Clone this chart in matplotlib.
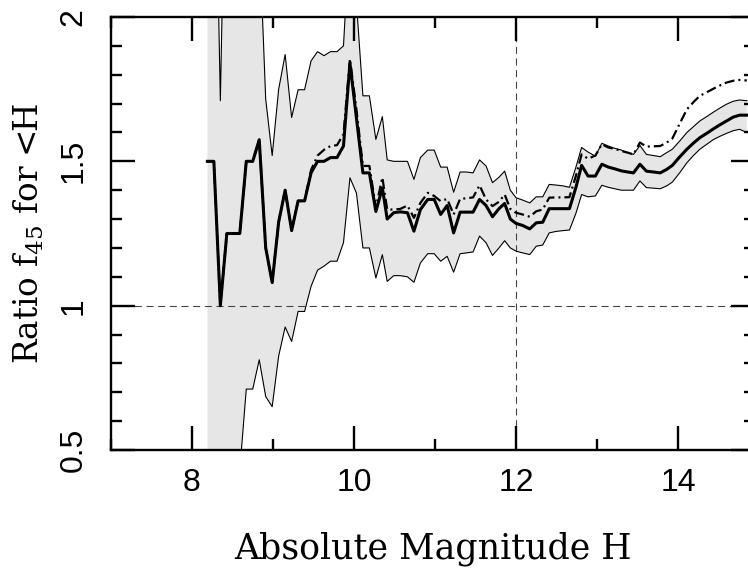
import matplotlib
matplotlib.use("Agg")
import matplotlib.pyplot as plt
from matplotlib.ticker import MultipleLocator, FixedLocator

plt.rcParams['mathtext.fontset'] = 'dejavuserif'

# ---- data ----
H = [8.19, 8.27, 8.35, 8.43, 8.51, 8.59, 8.67, 8.75, 8.83, 8.91,
     8.99, 9.07, 9.15, 9.23, 9.31, 9.39, 9.47, 9.55, 9.63, 9.71,
     9.79, 9.87, 9.95, 10.03, 10.11, 10.19, 10.27, 10.35,
     10.41, 10.49, 10.57, 10.66, 10.74, 10.82, 10.91, 10.99, 11.07, 11.15,
     11.23, 11.31, 11.39, 11.47, 11.55, 11.63, 11.71, 11.79, 11.86, 11.93,
     12.00, 12.08, 12.17, 12.25, 12.33, 12.41, 12.49, 12.58, 12.66, 12.74,
     12.81, 12.89, 12.98, 13.06, 13.14, 13.22, 13.30, 13.38, 13.45, 13.53,
     13.61, 13.70, 13.78, 13.86, 13.93, 14.02, 14.11, 14.19, 14.27, 14.36,
     14.44, 14.52, 14.60, 14.68, 14.76, 14.85]

ratio = [1.50, 1.50, 1.00, 1.25, 1.25, 1.25, 1.50, 1.50, 1.575, 1.20,
         1.08, 1.29, 1.40, 1.26, 1.363, 1.363, 1.46, 1.50, 1.50, 1.513,
         1.513, 1.553, 1.84, 1.65, 1.46, 1.46, 1.326, 1.408,
         1.30, 1.322, 1.325, 1.322, 1.258, 1.333, 1.368, 1.368, 1.316, 1.347,
         1.252, 1.324, 1.324, 1.324, 1.368, 1.347, 1.308, 1.336, 1.354, 1.30,
         1.285, 1.278, 1.266, 1.287, 1.289, 1.336, 1.336, 1.336, 1.336, 1.41,
         1.486, 1.449, 1.449, 1.49, 1.48, 1.474, 1.467, 1.463, 1.46, 1.49,
         1.466, 1.463, 1.46, 1.472, 1.486, 1.515, 1.542, 1.563, 1.582, 1.598,
         1.613, 1.627, 1.64, 1.653, 1.66, 1.66]

ratio_alt = [1.50, 1.50, 1.00, 1.25, 1.25, 1.25, 1.50, 1.50, 1.575, 1.20,
             1.08, 1.29, 1.40, 1.26, 1.363, 1.363, 1.47, 1.52, 1.54, 1.553,
             1.556, 1.594, 1.855, 1.68, 1.484, 1.484, 1.34, 1.444,
             1.333, 1.333, 1.335, 1.347, 1.304, 1.356, 1.391, 1.38, 1.362, 1.37,
             1.316, 1.37, 1.372, 1.375, 1.417, 1.368, 1.345, 1.36, 1.385, 1.335,
             1.322, 1.316, 1.308, 1.327, 1.333, 1.374, 1.375, 1.375, 1.376, 1.45,
             1.524, 1.509, 1.52, 1.559, 1.548, 1.543, 1.536, 1.53, 1.524, 1.565,
             1.551, 1.552, 1.553, 1.565, 1.579, 1.63, 1.68, 1.705, 1.727, 1.74,
             1.752, 1.763, 1.773, 1.779, 1.782, 1.78]

upper = [2.9, 2.87, 1.71, 2.87, 2.9, 2.9, 2.9, 2.9, 2.29, 1.715,
         1.52, 1.75, 1.87, 1.652, 1.748, 1.748, 1.848, 1.88, 1.866, 1.88,
         1.88, 1.90, 2.3, 2.05, 1.727, 1.727, 1.576, 1.655,
         1.505, 1.50, 1.50, 1.50, 1.4375, 1.513, 1.539, 1.539, 1.48, 1.48,
         1.393, 1.463, 1.463, 1.46, 1.505, 1.484, 1.426, 1.445, 1.466, 1.40,
         1.374, 1.366, 1.356, 1.377, 1.377, 1.42, 1.418, 1.415, 1.41, 1.48,
         1.548, 1.532, 1.518, 1.5625, 1.553, 1.545, 1.539, 1.53, 1.524, 1.555,
         1.524, 1.52, 1.516, 1.53, 1.542, 1.57, 1.60, 1.62, 1.64, 1.656,
         1.671, 1.685, 1.698, 1.708, 1.7125, 1.71]

lower = [0.2, 0.2, 0.2, 0.2, 0.3, 0.43, 0.711, 0.711, 0.8125, 0.685,
         0.65, 0.826, 0.926, 0.876, 0.98, 0.98, 1.067, 1.123, 1.137, 1.154,
         1.154, 1.218, 1.443, 1.39, 1.20, 1.20, 1.096, 1.177,
         1.084, 1.104, 1.104, 1.10, 1.081, 1.148, 1.18, 1.18, 1.154, 1.171,
         1.116, 1.18, 1.183, 1.186, 1.241, 1.218, 1.174, 1.20, 1.225, 1.20,
         1.189, 1.183, 1.177, 1.206, 1.21, 1.252, 1.257, 1.26, 1.262, 1.32,
         1.385, 1.377, 1.38, 1.417, 1.41, 1.405, 1.40, 1.40, 1.40, 1.432,
         1.409, 1.407, 1.405, 1.415, 1.428, 1.46, 1.495, 1.52, 1.542, 1.56,
         1.576, 1.587, 1.597, 1.606, 1.611, 1.60]

x_ticks = [8, 10, 12, 14]
y_ticks = [0.5, 1, 1.5, 2]
y_tick_labels = ['0.5', '1', '1.5', '2']

# ---- figure ----
W, Hpx = 748, 570
fig = plt.figure(figsize=(W / 100, Hpx / 100), dpi=100)
left_px, right_px, top_px, bot_px = 111, 755, 17, 450
ax = fig.add_axes([left_px / W, 1 - bot_px / Hpx,
                   (right_px - left_px) / W, (bot_px - top_px) / Hpx])

ax.fill_between(H, lower, upper, color='#e6e6e6', lw=0, zorder=1)
ax.plot(H, upper, color='k', lw=0.8, zorder=2)
ax.plot(H, lower, color='k', lw=0.8, zorder=2)
ax.plot(H, ratio_alt, color='k', lw=1.6, linestyle=(0, (4.5, 1.8, 0.9, 1.8)), zorder=3)
ax.plot(H, ratio, color='k', lw=2.2, zorder=4)

ax.axhline(1.0, color='#444444', lw=0.8, linestyle=(0, (6.3, 4.2)), zorder=1.5)
ax.axvline(12.0, color='#444444', lw=0.8, linestyle=(0, (6.3, 4.2)), zorder=1.5)

ax.set_xlim(7, 7 + (right_px - left_px) / 81.0)
ax.set_ylim(0.5, 2.0)

ax.xaxis.set_major_locator(FixedLocator(x_ticks))
ax.xaxis.set_minor_locator(MultipleLocator(1))
ax.yaxis.set_major_locator(FixedLocator(y_ticks))
ax.yaxis.set_minor_locator(MultipleLocator(0.1))
ax.set_yticklabels(y_tick_labels)

for s in ax.spines.values():
    s.set_linewidth(1.7)

ax.tick_params(which='both', direction='in', top=True, right=True, width=1.7)
ax.tick_params(which='major', length=17)
ax.tick_params(which='minor', length=8)
ax.tick_params(axis='x', which='major', pad=13)
ax.tick_params(axis='y', which='major', pad=16)

for lab in ax.get_xticklabels():
    lab.set_fontfamily('Liberation Sans')
    lab.set_fontsize(23)
for lab in ax.get_yticklabels():
    lab.set_fontfamily('Liberation Sans')
    lab.set_fontsize(23)
    lab.set_rotation(90)
    lab.set_verticalalignment('center')

ax.set_xlabel('Absolute Magnitude H', fontfamily='DejaVu Serif', fontsize=25, labelpad=24)
ax.set_ylabel(r'Ratio f$_{45}$ for <H', fontfamily='DejaVu Serif', fontsize=23.5, labelpad=9)

fig.savefig('out.png', dpi=100)
